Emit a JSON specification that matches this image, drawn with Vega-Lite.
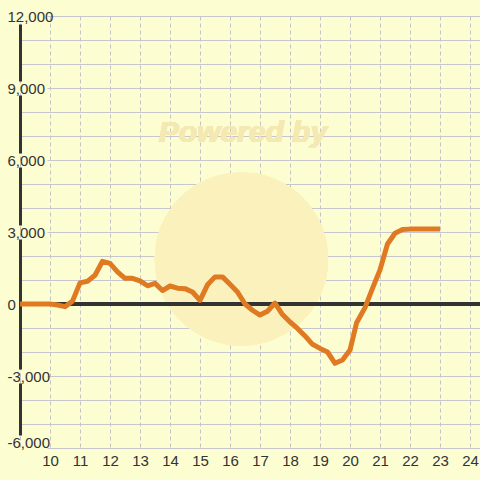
{
  "$schema": "https://vega.github.io/schema/vega-lite/v6.json",
  "width": 460,
  "height": 432,
  "autosize": "none",
  "padding": {"left": 20, "top": 16, "right": 0, "bottom": 32},
  "background": "#fdfdd2",
  "config": {"view": {"stroke": null}, "font": "Liberation Sans"},
  "data": {"values": [
    {"hour": 9.0, "value": 0},
    {"hour": 10.0, "value": 0},
    {"hour": 10.25, "value": -40},
    {"hour": 10.5, "value": -110},
    {"hour": 10.75, "value": 120},
    {"hour": 11.0, "value": 880},
    {"hour": 11.25, "value": 950},
    {"hour": 11.5, "value": 1200},
    {"hour": 11.75, "value": 1780},
    {"hour": 12.0, "value": 1690},
    {"hour": 12.25, "value": 1340},
    {"hour": 12.5, "value": 1070},
    {"hour": 12.75, "value": 1070},
    {"hour": 13.0, "value": 960},
    {"hour": 13.25, "value": 760},
    {"hour": 13.5, "value": 860},
    {"hour": 13.75, "value": 560},
    {"hour": 14.0, "value": 750},
    {"hour": 14.25, "value": 660},
    {"hour": 14.5, "value": 640},
    {"hour": 14.75, "value": 500},
    {"hour": 15.0, "value": 150},
    {"hour": 15.25, "value": 800},
    {"hour": 15.5, "value": 1130},
    {"hour": 15.75, "value": 1130},
    {"hour": 16.0, "value": 820},
    {"hour": 16.25, "value": 500},
    {"hour": 16.5, "value": 0},
    {"hour": 16.75, "value": -260},
    {"hour": 17.0, "value": -460},
    {"hour": 17.25, "value": -300},
    {"hour": 17.5, "value": 40},
    {"hour": 17.75, "value": -440},
    {"hour": 18.0, "value": -750},
    {"hour": 18.25, "value": -1020},
    {"hour": 18.5, "value": -1330},
    {"hour": 18.75, "value": -1680},
    {"hour": 19.0, "value": -1850},
    {"hour": 19.25, "value": -2000},
    {"hour": 19.5, "value": -2470},
    {"hour": 19.75, "value": -2330},
    {"hour": 20.0, "value": -1920},
    {"hour": 20.22, "value": -780},
    {"hour": 20.5, "value": -150},
    {"hour": 20.75, "value": 650},
    {"hour": 21.0, "value": 1420},
    {"hour": 21.25, "value": 2500},
    {"hour": 21.5, "value": 2950},
    {"hour": 21.75, "value": 3100},
    {"hour": 22.0, "value": 3120},
    {"hour": 23.0, "value": 3120}
  ]},
  "layer": [
    {
      "mark": {"type": "point", "filled": true, "shape": "circle", "size": 30000, "fill": "#faf1bd", "opacity": 1, "fillOpacity": 1, "strokeWidth": 0},
      "encoding": {
        "x": {
          "datum": 16.38, "type": "quantitative",
          "scale": {"domain": [9, 24.3333], "nice": false, "zero": false},
          "axis": {
            "tickCount": 15,
            "title": null,
            "grid": true, "gridColor": "#c4c4c4", "gridDash": [4, 3], "gridWidth": 1,
            "ticks": false, "tickSize": 0, "domain": false,
            "labelFontSize": 15, "labelColor": "#333333", "labelPadding": 5,
            "labelExpr": "datum.value >= 10 ? datum.label : ''",
            "labelFlush": false, "labelOverlap": false, "labelBound": false
          }
        },
        "y": {
          "datum": 1875, "type": "quantitative",
          "scale": {"domain": [-6000, 12000], "nice": false, "zero": false},
          "axis": {
            "tickCount": 18,
            "title": null,
            "grid": true, "gridColor": "#c6c6cc", "gridWidth": 1,
            "gridDash": {"condition": {"test": "datum.value % 3000 === 0", "value": [0, 27, 1000, 0]}, "value": []},
            "ticks": false, "tickSize": 0,
            "labelAlign": "left", "labelBaseline": "middle", "labelPadding": 13,
            "labelFontSize": 15, "labelColor": "#333333",
            "labelExpr": "datum.value % 3000 === 0 ? replace(format(datum.value, ','), '−', '-') : ''",
            "labelOffset": {"condition": {"test": "datum.value === -6000", "value": -6}, "value": 0},
            "labelFlush": false, "labelOverlap": false, "labelBound": false,
            "domain": true, "domainColor": "#333333", "domainWidth": 3, "domainCap": "butt",
            "domainDash": [0, 13, 52, 14, 130, 14, 58, 14, 58, 14, 57, 8]
          }
        }
      }
    },
    {
      "mark": {"type": "text", "text": "Powered by", "fontSize": 30, "fontWeight": "bold", "fontStyle": "italic", "fill": "#f4e9b2", "font": "Liberation Sans"},
      "encoding": {
        "x": {"datum": 16.43, "type": "quantitative"},
        "y": {"datum": 7125, "type": "quantitative"}
      }
    },
    {
      "mark": {"type": "rule", "color": "#333333", "strokeWidth": 3},
      "encoding": {"y": {"datum": 0, "type": "quantitative"}}
    },
    {
      "mark": {"type": "line", "color": "#e07a22", "strokeWidth": 5, "strokeJoin": "round", "strokeCap": "butt"},
      "encoding": {
        "x": {"field": "hour", "type": "quantitative"},
        "y": {"field": "value", "type": "quantitative"}
      }
    }
  ]
}
